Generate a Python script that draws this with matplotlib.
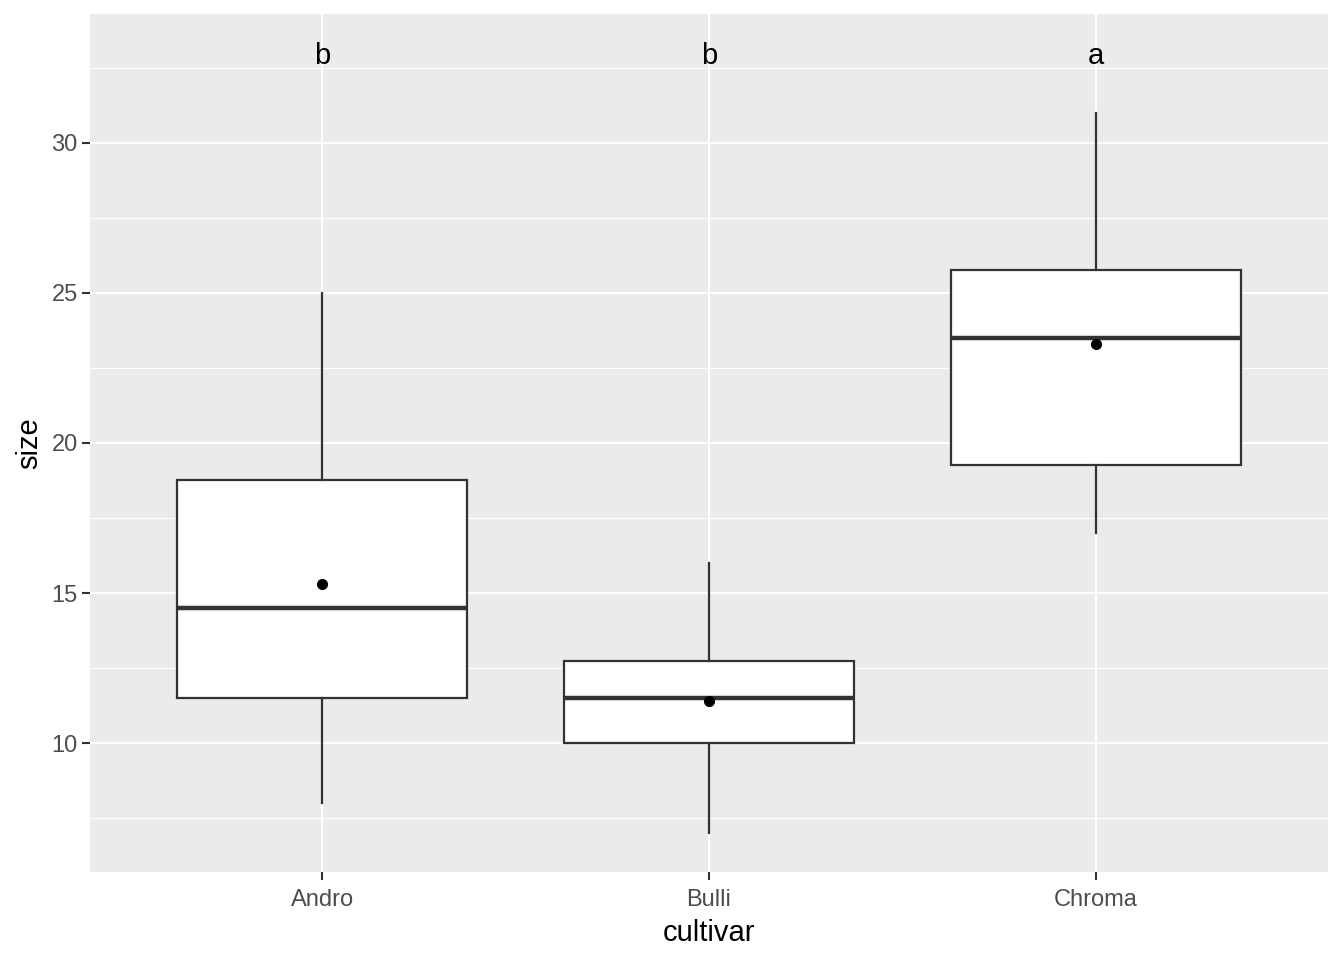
import matplotlib.pyplot as plt
from matplotlib.ticker import MultipleLocator

plt.rcParams['font.family'] = ['Liberation Sans', 'DejaVu Sans']

# box statistics
cultivars = ['Andro', 'Bulli', 'Chroma']
whislo = [8, 7, 17]
q1 = [11.5, 10, 19.25]
med = [14.5, 11.5, 23.5]
q3 = [18.75, 12.75, 25.75]
whishi = [25, 16, 31]
means = [15.3, 11.4, 23.3]
letters = ['b', 'b', 'a']
letter_y = 33

stats = []
for i in range(len(cultivars)):
    stats.append(dict(label=cultivars[i], whislo=whislo[i], q1=q1[i], med=med[i],
                      q3=q3[i], whishi=whishi[i], fliers=[]))

fig = plt.figure(figsize=(13.44, 9.6), dpi=100)
ax = fig.add_axes([90 / 1344, 88 / 960, 1238 / 1344, 858 / 960])
ax.set_facecolor('#EBEBEB')

pos = list(range(1, len(cultivars) + 1))
edge = '#333333'
ax.bxp(stats, positions=pos, widths=0.75, patch_artist=True, showcaps=False,
       boxprops=dict(facecolor='white', edgecolor=edge, linewidth=1.6),
       whiskerprops=dict(color=edge, linewidth=1.6),
       medianprops=dict(color=edge, linewidth=3.2, solid_capstyle='butt'),
       zorder=3)
ax.plot(pos, means, 'o', color='black', markersize=7, zorder=4)

for p, lt in zip(pos, letters):
    ax.text(p, letter_y, lt, ha='center', va='center_baseline', fontsize=21,
            color='black', zorder=4)

ax.set_xlim(0.4, 3.6)
ax.set_ylim(5.7, 34.3)
ax.set_xticks(pos)
ax.set_xticklabels(cultivars)
ax.yaxis.set_minor_locator(MultipleLocator(2.5))
ax.set_yticks([10, 15, 20, 25, 30])

ax.grid(which='major', color='white', linewidth=1.5, zorder=0)
ax.grid(which='minor', axis='y', color='white', linewidth=0.75, zorder=0)
ax.set_axisbelow(True)
for s in ax.spines.values():
    s.set_visible(False)

ax.tick_params(which='major', length=5.8, width=1.5, color=edge, labelcolor='#4D4D4D',
               labelsize=17, pad=3)
ax.tick_params(axis='x', which='major', pad=6.5)
ax.tick_params(which='minor', length=0)

ax.set_xlabel('cultivar', fontsize=21, labelpad=5.5)
ax.set_ylabel('size', fontsize=21, labelpad=6)

fig.savefig('out.png', dpi=100)
